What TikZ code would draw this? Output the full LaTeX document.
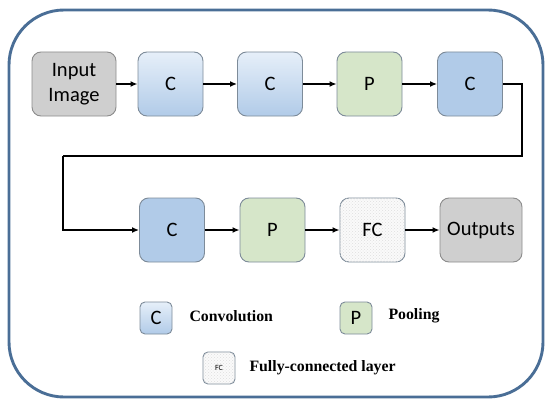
\documentclass[tikz,border=0pt]{standalone}
\usepackage{fontspec}
\setmainfont{Liberation Serif}
\newfontfamily\boxfont{Carlito}
\usetikzlibrary{arrows.meta, positioning, patterns}
\definecolor{convtop}{HTML}{E6EFF9}
\definecolor{convblue}{HTML}{B1CBE8}
\definecolor{poolgreen}{HTML}{D6E6C9}
\definecolor{iogray}{HTML}{CFCFCF}
\definecolor{framecol}{HTML}{4A6E96}
\definecolor{edgecol}{HTML}{7D8B99}

\begin{document}
\begin{tikzpicture}[x=1pt, y=-1pt,
  layer/.style={draw=edgecol, line width=0.9pt, rounded corners=9pt, minimum width=65pt, minimum height=64pt, inner sep=0pt, align=center, font=\boxfont\fontsize{20.5}{25}\selectfont},
  conv/.style={layer, top color=convtop, bottom color=convblue},
  convflat/.style={layer, fill=convblue},
  pool/.style={layer, fill=poolgreen},
  fc/.style={layer, fill=gray!4, postaction={pattern=crosshatch dots, pattern color=gray!25}},
  io/.style={layer, fill=iogray, draw=gray!90},
  key/.style={minimum width=32pt, minimum height=32pt, rounded corners=5pt},
  keytext/.style={anchor=west, font=\bfseries\fontsize{15.8}{18}\selectfont},
  flow/.style={-{Latex[length=7pt,width=6pt]}, line width=1.6pt}]
\useasboundingbox (0,0) rectangle (548,401);
\draw[framecol, line width=2.9pt, rounded corners=55pt] (9,10) rectangle (543,397);

\node[io, minimum width=84pt] (input) at (74,84) {Input\\Image};
\node[conv] (c1) at (170.5,84) {C};
\node[conv] (c2) at (270,84) {C};
\node[pool] (p1) at (369.5,84) {P};
\node[convflat] (c3) at (470,84) {C};

\node[convflat] (c4) at (172,230) {C};
\node[pool] (p2) at (272.5,230) {P};
\node[fc] (fc) at (372.5,230) {FC};
\node[io, minimum width=82pt] (out) at (481,230) {Outputs};

\coordinate (bendR) at (522,156);
\coordinate (bendL) at (63,156);

\draw[flow] (input) -- (c1);
\draw[flow] (c1) -- (c2);
\draw[flow] (c2) -- (p1);
\draw[flow] (p1) -- (c3);
\draw[line width=1.6pt] (c3.east) -| (bendR) -- (bendL);
\draw[flow] (bendL) |- (c4.west);
\draw[flow] (c4) -- (p2);
\draw[flow] (p2) -- (fc);
\draw[flow] (fc) -- (out);

\node[conv, key] (keyc) at (156,318) {C};
\node[keytext] (keyctext) at (186,316) {Convolution};
\node[pool, key] (keyp) at (356,318) {P};
\node[keytext] (keyptext) at (385,316) {Pooling};
\node[fc, key, font=\boxfont\fontsize{8}{9}\selectfont] (keyfc) at (219,368) {FC};
\node[keytext] (keyfctext) at (246,368) {Fully-connected layer};
\end{tikzpicture}
\end{document}
